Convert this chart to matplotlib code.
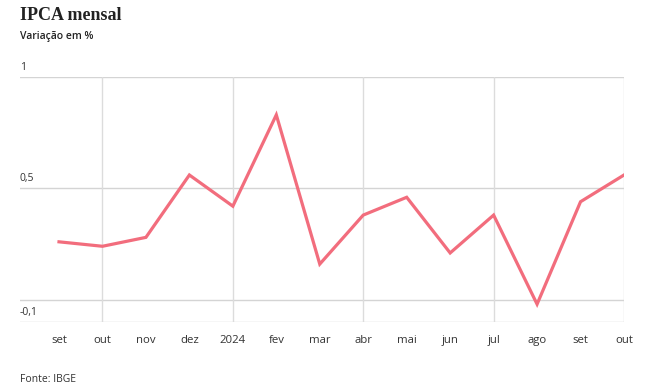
import numpy as np
import matplotlib.pyplot as plt

# ------------------------------------------------------------
# Data — IPCA monthly variation (%), Sep/2023 to Oct/2024
# ------------------------------------------------------------
months = ["set", "out", "nov", "dez", "2024", "fev", "mar",
          "abr", "mai", "jun", "jul", "ago", "set", "out"]
ipca = [0.26, 0.24, 0.28, 0.56, 0.42, 0.83, 0.16,
        0.38, 0.46, 0.21, 0.38, -0.02, 0.44, 0.56]

y_ticks = [1.0, 0.5, 0.0, -0.1]
y_labels = {1.0: "1", 0.5: "0,5", -0.1: "-0,1"}
x_grid = [1, 4, 7, 10, 13]

line_color = "#f26d7d"
grid_color = "#d4d4d4"
text_color = "#333333"

W, H = 655, 387
fig = plt.figure(figsize=(W / 100, H / 100), dpi=100)

# axes spans x 20..624 px, y 77..322 px
ax = fig.add_axes([20 / W, 1 - 322 / H, (624 - 20) / W, (322 - 77) / H])
x = np.arange(len(months))
step = (624 - 59) / (len(months) - 1)
ax.set_xlim(-(59 - 20) / step, len(months) - 1)
ax.set_ylim(-0.1, 1.0)

for v in y_ticks:
    ax.axhline(v, color=grid_color, lw=1.0, zorder=1)
for g in x_grid:
    ax.axvline(g, color="#dcdcdc", lw=1.0, zorder=1)

ax.plot(x, ipca, color=line_color, lw=2.3, zorder=3, solid_joinstyle="miter")

for spine in ax.spines.values():
    spine.set_visible(False)
ax.set_xticks([])
ax.set_yticks([])

# y labels sit just above their gridlines, left aligned
for v, lab in y_labels.items():
    ax.annotate(lab, xy=(0, v), xycoords=("axes fraction", "data"),
                xytext=(0, 3), textcoords="offset points",
                ha="left", va="bottom", fontsize=7.5,
                family="Open Sans", color=text_color)

# month labels
for i, m in enumerate(months):
    ax.annotate(m, xy=(i, 0), xycoords=("data", "axes fraction"),
                xytext=(0, -13), textcoords="offset points",
                ha="center", va="center", fontsize=8.2,
                family="Open Sans", color=text_color)

fig.text(20 / W, 1 - 15 / H, "IPCA mensal", fontsize=13, fontweight="bold",
         family="Liberation Serif", color="#222222", ha="left", va="center")
fig.text(20 / W, 1 - 37 / H, "Variação em %", fontsize=7.5, fontweight="semibold",
         family="Open Sans", color="#222222", ha="left", va="center")
fig.text(20 / W, 1 - 379 / H, "Fonte: IBGE", fontsize=7.5,
         family="Open Sans", color=text_color, ha="left", va="center")

fig.savefig("out.png", dpi=100, facecolor="white")
